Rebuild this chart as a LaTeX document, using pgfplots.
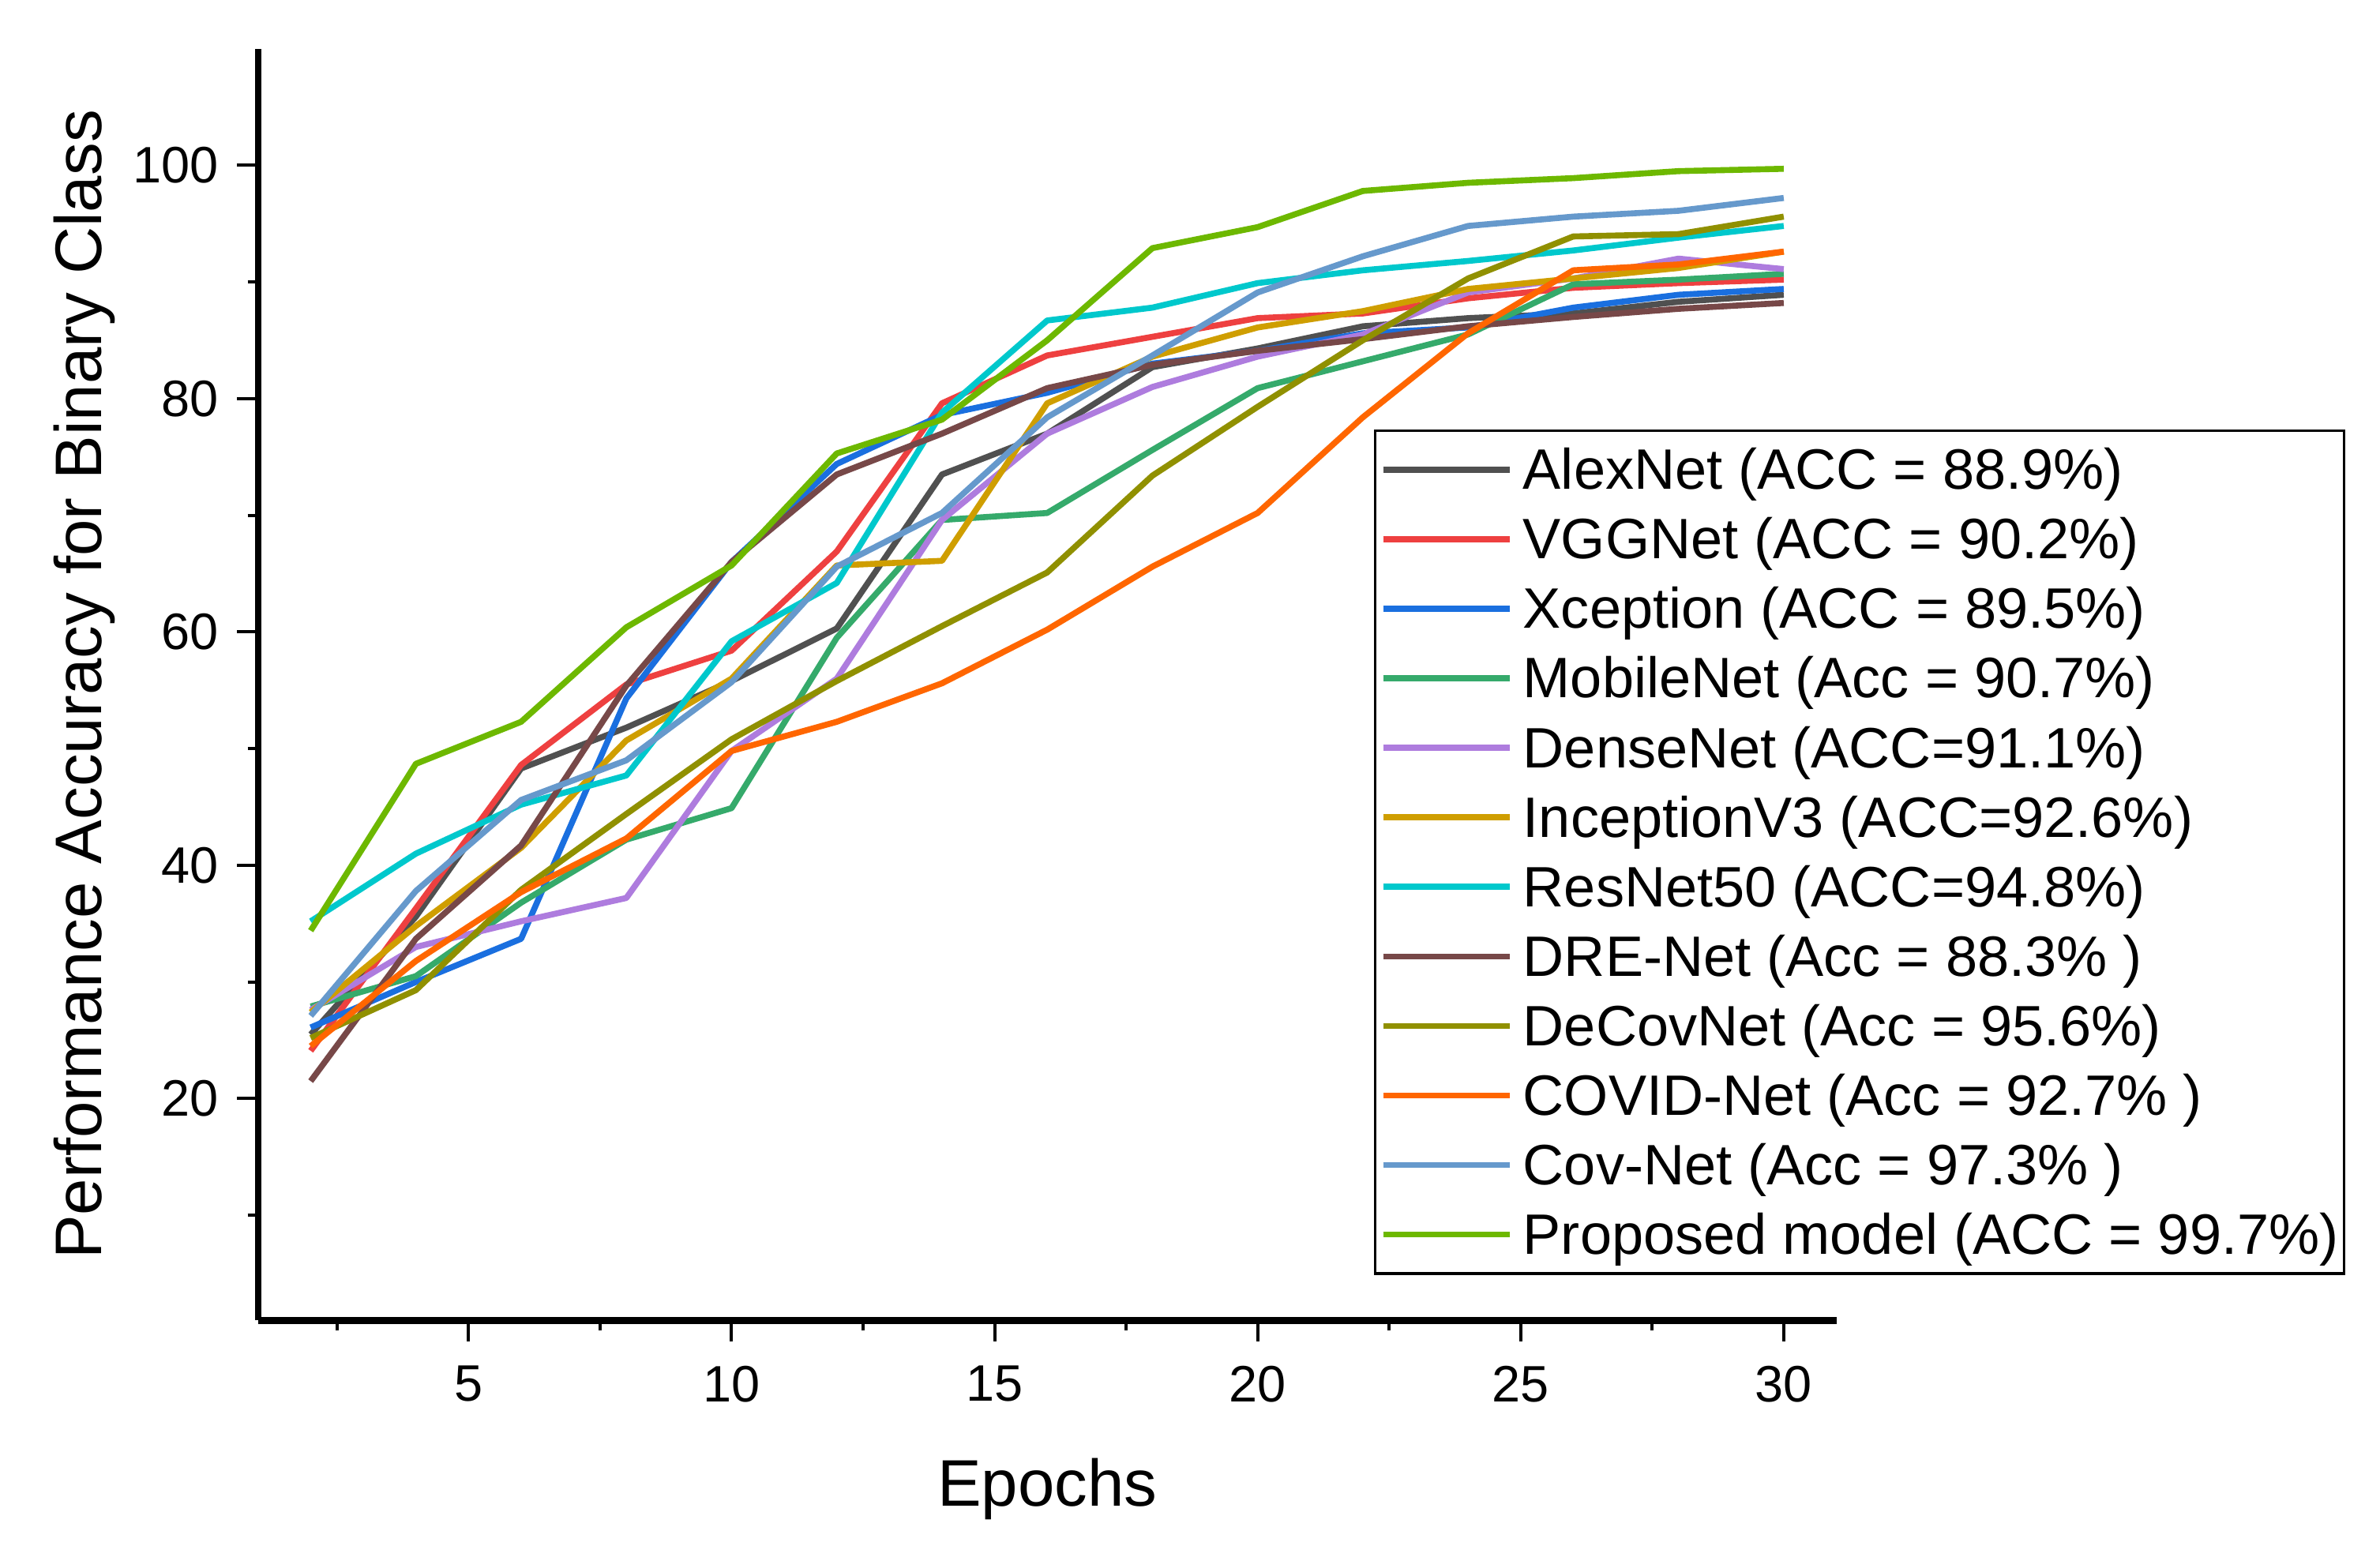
\documentclass[border=0pt]{standalone}
\usepackage{pgfplots}
\usepackage{pgfplotstable}
\pgfplotsset{compat=1.18}
\usepackage{fontspec}
\setmainfont{Liberation Sans}
\definecolor{cAlex}{HTML}{505050}
\definecolor{cVGG}{HTML}{EE4040}
\definecolor{cXcep}{HTML}{1A6FDF}
\definecolor{cMob}{HTML}{35AA6B}
\definecolor{cDense}{HTML}{AE7CDE}
\definecolor{cIncep}{HTML}{CF9E00}
\definecolor{cRes}{HTML}{00C8CC}
\definecolor{cDRE}{HTML}{774848}
\definecolor{cDeCov}{HTML}{909000}
\definecolor{cCOVID}{HTML}{FF6600}
\definecolor{cCov}{HTML}{6699CC}
\definecolor{cProp}{HTML}{6DB800}
\pgfplotstableread{
E  Alex VGG  Xcep Mob  Dense Incep Res  DRE  DeCov COVID Cov  Prop
2  25.5 24.1 26.1 27.9 27.6  27.4  35.2 21.5 25.2  24.5  27.1 34.4
4  35.6 36.3 30.0 30.5 33.0  34.8  41.0 33.7 29.3  31.8  37.8 48.7
6  48.3 48.6 33.7 36.8 35.2  41.5  45.2 41.7 37.9  37.7  45.6 52.3
8  51.8 55.5 54.3 42.2 37.2  50.7  47.7 55.4 44.4  42.3  49.0 60.4
10 55.8 58.4 66.0 44.9 49.8  56.0  59.2 66.0 50.8  49.8  55.7 65.7
12 60.3 66.9 74.4 59.5 56.0  65.7  64.2 73.5 55.8  52.3  65.6 75.3
14 73.5 79.6 78.6 69.6 69.6  66.1  78.8 77.0 60.5  55.6  70.2 78.2
16 77.0 83.7 80.5 70.2 77.0  79.6  86.7 80.9 65.1  60.2  78.4 85.0
18 82.7 85.3 83.0 75.6 81.0  83.6  87.8 82.9 73.4  65.6  83.7 92.9
20 84.3 86.9 84.1 80.9 83.6  86.1  89.9 84.1 79.3  70.2  89.1 94.7
22 86.2 87.3 85.6 83.2 85.5  87.5  91.0 85.1 85.0  78.4  92.2 97.8
24 86.9 88.6 86.1 85.5 89.1  89.4  91.8 86.2 90.3  85.6  94.8 98.5
26 87.3 89.5 87.8 89.8 90.3  90.3  92.7 87.0 93.9  91.0  95.6 98.9
28 88.3 89.9 88.9 90.2 92.0  91.2  93.8 87.7 94.1  91.5  96.1 99.5
30 88.9 90.2 89.4 90.7 91.1  92.6  94.8 88.2 95.6  92.6  97.2 99.7
}\acc
\begin{document}
\begin{tikzpicture}
\useasboundingbox (-1.735cm,-1.49cm) rectangle (14.265cm,8.877cm);
\begin{axis}[
  scale only axis, width=10.61cm, height=8.55cm,
  xmin=1, xmax=31, ymin=1, ymax=110,
  axis x line*=bottom, axis y line*=left,
  axis line style={line width=1.3pt},
  xtick={5,10,...,30}, minor xtick={2.5,7.5,...,27.5},
  ytick={20,40,...,100}, minor ytick={10,30,...,90},
  tick align=outside, major tick length=0.14cm, minor tick length=0.07cm,
  tick style={black, line width=0.6pt},
  ticklabel style={font=\fontsize{9.8}{12}\selectfont},
  xticklabel style={yshift=-1.2pt},
  /pgf/number format/assume math mode=true,
  xlabel={Epochs}, ylabel={Performance Accuracy for Binary Class},
  label style={font=\fontsize{12.6}{15}\selectfont},
  xlabel style={at={(axis description cs:0.5,0)}, anchor=center, yshift=-1.135cm},
  ylabel style={at={(axis description cs:0,0.5)}, anchor=center, xshift=0pt, yshift=1.165cm},
  every axis plot/.append style={line width=1.15pt, line join=round},
  legend style={at={(0.7069,0.7005)}, anchor=north west, draw=black, line width=0.5pt,
    fill=white, font=\fontsize{10.9}{13}\selectfont, inner xsep=0.035cm, inner ysep=1.2pt,
    row sep=0.8pt, column sep=0.07cm,
    nodes={inner sep=0pt, text height=10pt, text depth=2.5pt}},
  legend cell align=left,
  legend image code/.code={\draw[#1] (0cm,0cm) -- (0.85cm,0cm);},
]
\addplot[cAlex] table[x=E,y=Alex]{\acc}; \addlegendentry{AlexNet (ACC = 88.9\%)}
\addplot[cVGG] table[x=E,y=VGG]{\acc}; \addlegendentry{VGGNet (ACC = 90.2\%)}
\addplot[cXcep] table[x=E,y=Xcep]{\acc}; \addlegendentry{Xception (ACC = 89.5\%)}
\addplot[cMob] table[x=E,y=Mob]{\acc}; \addlegendentry{MobileNet (Acc = 90.7\%)}
\addplot[cDense] table[x=E,y=Dense]{\acc}; \addlegendentry{DenseNet (ACC=91.1\%)}
\addplot[cIncep] table[x=E,y=Incep]{\acc}; \addlegendentry{InceptionV3 (ACC=92.6\%)}
\addplot[cRes] table[x=E,y=Res]{\acc}; \addlegendentry{ResNet50 (ACC=94.8\%)}
\addplot[cDRE] table[x=E,y=DRE]{\acc}; \addlegendentry{DRE-Net (Acc = 88.3\% )}
\addplot[cDeCov] table[x=E,y=DeCov]{\acc}; \addlegendentry{DeCovNet (Acc = 95.6\%)}
\addplot[cCOVID] table[x=E,y=COVID]{\acc}; \addlegendentry{COVID-Net (Acc = 92.7\% )}
\addplot[cCov] table[x=E,y=Cov]{\acc}; \addlegendentry{Cov-Net (Acc = 97.3\% )}
\addplot[cProp] table[x=E,y=Prop]{\acc}; \addlegendentry{Proposed model (ACC = 99.7\%)}
\end{axis}
\end{tikzpicture}
\end{document}
